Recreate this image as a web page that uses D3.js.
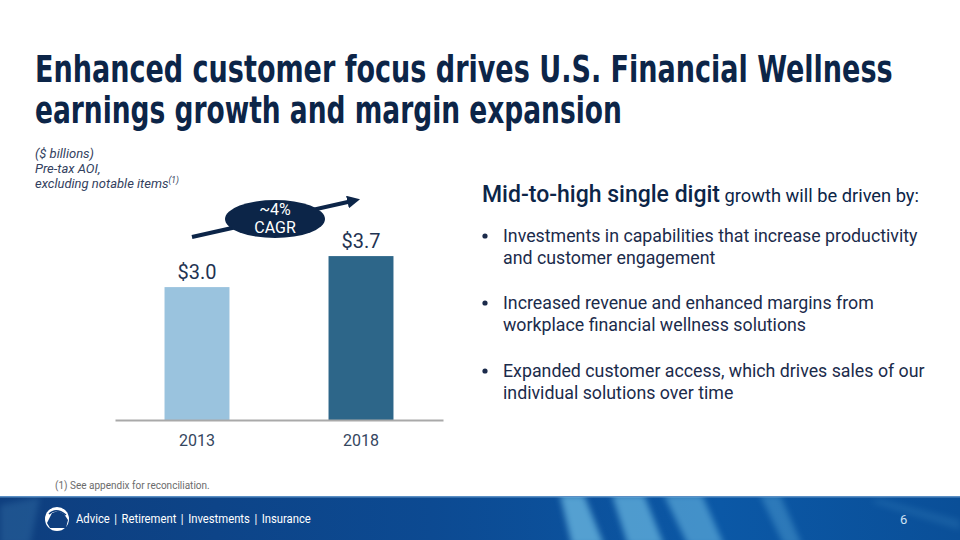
<!DOCTYPE html>
<html>
<head>
<meta charset="utf-8">
<script src="https://cdn.jsdelivr.net/npm/d3@7"></script>
<style>
  html, body { margin: 0; padding: 0; background: #fff; }
  svg { display: block; }
</style>
</head>
<body>
<div class="slide"></div>
<script>
const titleLines = ["Enhanced customer focus drives U.S. Financial Wellness", "earnings growth and margin expansion"];
const unitLines = ["($ billions)", "Pre-tax AOI,", "excluding notable items"];
const years = ["2013", "2018"];
const values = [3.0, 3.7];
const valueLabels = ["$3.0", "$3.7"];
const barColors = ["#9ac3de", "#2d6689"];
const cagrLines = ["~4%", "CAGR"];
const headBold = "Mid-to-high single digit";
const headRest = " growth will be driven by:";
const bullets = [
    ["Investments in capabilities that increase productivity", "and customer engagement"],
    ["Increased revenue and enhanced margins from", "workplace financial wellness solutions"],
    ["Expanded customer access, which drives sales of our", "individual solutions over time"]
];
const footnote = "(1)  See appendix for reconciliation.";
const footerText = "Advice | Retirement | Investments | Insurance";
const pageNum = "6";

const width = 960;
const height = 540;
const navy = "#0c2548";
const textCol = "#1b2b4b";

const svg = d3.select(".slide")
    .append("svg")
    .attr("width", width)
    .attr("height", height)
    .attr("viewBox", [0, 0, width, height]);

const defs = svg.append("defs");

// squeeze a text horizontally so it spans the given width
function fitWidth(sel, x0, target) {
    sel.each(function(d, i) {
        const t = d3.select(this);
        const len = this.getComputedTextLength();
        const w = typeof target === "function" ? target(d, i) : target;
        t.attr("x", 0)
            .attr("transform", `translate(${x0},0) scale(${w / len},1)`);
    });
}

// title, condensed bold
const title = svg.append("g")
    .attr("font-family", "'DejaVu Sans Condensed', 'Liberation Sans Narrow', 'Roboto', sans-serif")
    .attr("font-weight", "bold")
    .attr("font-stretch", "condensed")
    .attr("fill", navy)
    .attr("font-size", 36.5);

const titleWidths = [858, 587];
title.selectAll("text")
    .data(titleLines)
    .join("text")
    .attr("y", (d, i) => 82 + i * 41)
    .text(d => d)
    .call(fitWidth, 35, (d, i) => titleWidths[i]);

// units note
const unit = svg.append("g")
    .attr("font-family", "Roboto, sans-serif")
    .attr("font-style", "italic")
    .attr("font-size", 13)
    .attr("fill", "#33415e");

unit.selectAll("text")
    .data(unitLines)
    .join("text")
    .attr("x", 35)
    .attr("y", (d, i) => 158 + i * 15)
    .text(d => d);

unit.select("text:last-child")
    .append("tspan")
    .attr("font-size", 8.5)
    .attr("dy", -5)
    .text("(1)");

// chart
const x = d3.scaleBand()
    .domain(years)
    .range([115, 443])
    .paddingInner(0.604)
    .paddingOuter(0.302);

const y = d3.scaleLinear()
    .domain([0, 5])
    .range([420, 198.5]);

const chart = svg.append("g");

chart.selectAll("rect.bar")
    .data(values)
    .join("rect")
    .attr("class", "bar")
    .attr("x", (d, i) => x(years[i]))
    .attr("y", d => y(d))
    .attr("width", x.bandwidth())
    .attr("height", d => y(0) - y(d))
    .attr("fill", (d, i) => barColors[i]);

chart.selectAll("text.val")
    .data(values)
    .join("text")
    .attr("class", "val")
    .attr("x", (d, i) => x(years[i]) + x.bandwidth() / 2)
    .attr("y", d => y(d) - 8)
    .attr("text-anchor", "middle")
    .attr("font-family", "Roboto, sans-serif")
    .attr("font-size", 20)
    .attr("fill", "#1f3352")
    .text((d, i) => valueLabels[i]);

const xAxis = chart.append("g")
    .attr("transform", `translate(0,${y(0)})`)
    .call(d3.axisBottom(x).tickSize(0).tickPadding(15));

xAxis.select(".domain")
    .attr("stroke", "#a9a9a9")
    .attr("stroke-width", 2);

xAxis.selectAll(".tick text")
    .attr("font-family", "Roboto, sans-serif")
    .attr("font-size", 16)
    .attr("fill", "#34465e");

// CAGR arrow
defs.append("marker")
    .attr("id", "arrowhead")
    .attr("viewBox", "0 0 10 10")
    .attr("refX", 2)
    .attr("refY", 5)
    .attr("markerWidth", 3.2)
    .attr("markerHeight", 3.2)
    .attr("orient", "auto")
    .append("path")
    .attr("d", "M0,0 L10,5 L0,10 Z")
    .attr("fill", navy);

chart.append("line")
    .attr("x1", 192)
    .attr("y1", 237)
    .attr("x2", 350)
    .attr("y2", 201.5)
    .attr("stroke", navy)
    .attr("stroke-width", 4)
    .attr("marker-end", "url(#arrowhead)");

chart.append("ellipse")
    .attr("cx", 275)
    .attr("cy", 219)
    .attr("rx", 50)
    .attr("ry", 19)
    .attr("fill", navy);

chart.selectAll("text.cagr")
    .data(cagrLines)
    .join("text")
    .attr("class", "cagr")
    .attr("x", 275)
    .attr("y", (d, i) => 215 + i * 18)
    .attr("text-anchor", "middle")
    .attr("font-family", "Roboto, sans-serif")
    .attr("font-size", 16)
    .attr("fill", "#fff")
    .text(d => d);

// right text block
const side = svg.append("g")
    .attr("font-family", "Roboto, sans-serif")
    .attr("fill", textCol);

const head = side.append("text")
    .attr("x", 482)
    .attr("y", 202)
    .attr("fill", navy);
head.append("tspan")
    .attr("font-size", 23)
    .attr("font-weight", 500)
    .text(headBold);
head.append("tspan")
    .attr("font-size", 18.3)
    .text(headRest);

const bulletTops = [242, 309, 377];

bullets.forEach((lines, i) => {
    side.append("circle")
        .attr("cx", 485)
        .attr("cy", bulletTops[i] - 6)
        .attr("r", 2.6);
    side.append("g")
        .selectAll("text")
        .data(lines)
        .join("text")
        .attr("x", 503)
        .attr("y", (d, j) => bulletTops[i] + j * 22)
        .attr("font-size", 17.8)
        .text(d => d);
});

// footnote
svg.append("text")
    .attr("x", 55)
    .attr("y", 489)
    .attr("font-family", "Roboto, sans-serif")
    .attr("font-size", 10)
    .attr("fill", "#6b6b6b")
    .text(footnote);

// footer band
const grad = defs.append("linearGradient")
    .attr("id", "band")
    .attr("x1", 0).attr("y1", 0)
    .attr("x2", 1).attr("y2", 0);
grad.append("stop").attr("offset", 0).attr("stop-color", "#0e3e7e");
grad.append("stop").attr("offset", 0.45).attr("stop-color", "#0c4a92");
grad.append("stop").attr("offset", 0.75).attr("stop-color", "#0b58a6");
grad.append("stop").attr("offset", 1).attr("stop-color", "#0a4f98");

defs.append("filter")
    .attr("id", "soft")
    .attr("x", "-50%").attr("y", "-50%")
    .attr("width", "200%").attr("height", "200%")
    .append("feGaussianBlur")
    .attr("stdDeviation", 3);

defs.append("clipPath")
    .attr("id", "bandClip")
    .append("rect")
    .attr("x", 0)
    .attr("y", 497)
    .attr("width", width)
    .attr("height", height - 497);

const footer = svg.append("g");

footer.append("rect")
    .attr("x", 0)
    .attr("y", 497)
    .attr("width", width)
    .attr("height", height - 497)
    .attr("fill", "url(#band)");

footer.append("rect")
    .attr("x", 0)
    .attr("y", 496)
    .attr("width", width)
    .attr("height", 1.5)
    .attr("fill", "#5b8fc4");

const streaks = [
    { d: "M560,495 L584,495 L604,545 L572,545 Z", o: 0.65 },
    { d: "M612,495 L644,495 L664,545 L628,545 Z", o: 0.6 },
    { d: "M664,495 L702,495 L724,545 L688,545 Z", o: 0.5 },
    { d: "M760,495 L780,495 L802,545 L784,545 Z", o: 0.3 },
    { d: "M0,505 L40,497 L30,545 L0,545 Z", o: 0.15 },
    { d: "M880,499 L960,520 L960,530 L870,502 Z", o: 0.12 }
];

footer.append("g")
    .attr("clip-path", "url(#bandClip)")
    .selectAll("path.streak")
    .data(streaks)
    .join("path")
    .attr("class", "streak")
    .attr("d", d => d.d)
    .attr("fill", "#7ccbee")
    .attr("filter", "url(#soft)")
    .attr("opacity", d => d.o);

// logo
footer.append("circle")
    .attr("cx", 57)
    .attr("cy", 519)
    .attr("r", 12)
    .attr("fill", "#fff");
footer.append("path")
    .attr("d", "M47,523 L52,513 L58,511 L64,514 L68,520 L66,528 L50,528 Z")
    .attr("fill", "#0e3e7e");
footer.append("path")
    .attr("d", "M49,514 Q56,507 66,515")
    .attr("fill", "none")
    .attr("stroke", "#0e3e7e")
    .attr("stroke-width", 1.5);

footer.append("text")
    .attr("y", 523)
    .attr("font-family", "Roboto, sans-serif")
    .attr("font-size", 13)
    .attr("fill", "#fff")
    .attr("word-spacing", 2)
    .text(footerText)
    .call(fitWidth, 76, 235);

footer.append("text")
    .attr("x", 900)
    .attr("y", 524)
    .attr("font-family", "Roboto, sans-serif")
    .attr("font-size", 13)
    .attr("fill", "#cfe3f5")
    .text(pageNum);
</script>
</body>
</html>
